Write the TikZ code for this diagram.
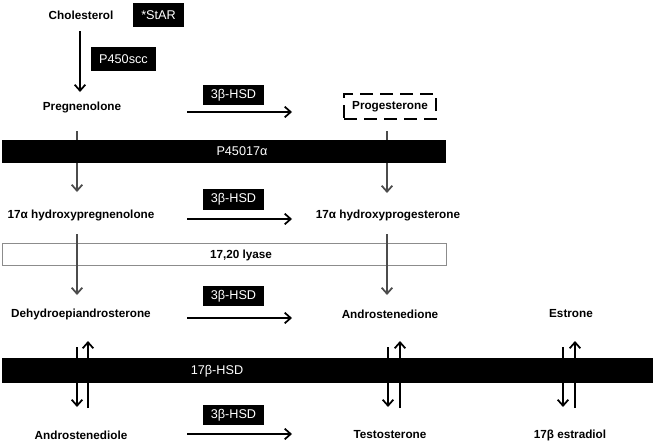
\documentclass[tikz,border=0pt]{standalone}
\usepackage{fontspec}
\setmainfont{Liberation Sans}
\usetikzlibrary{arrows.meta}
\definecolor{linegray}{gray}{0.3}
\definecolor{boxgray}{gray}{0.55}
\begin{document}
\begin{tikzpicture}[x=0.75pt,y=-0.75pt,
  lbl/.style={font=\fontsize{8.8}{10}\selectfont\bfseries, inner sep=0pt},
  enz/.style={fill=black, text=white, font=\fontsize{9.5}{11}\selectfont, inner sep=0pt, minimum width=45.75pt, minimum height=15.5pt},
  wtxt/.style={text=white, font=\fontsize{9.5}{11}\selectfont, inner sep=0pt},
  tipv/.style={-{Straight Barb[length=4.5pt,width=8pt,line width=1.3pt]}},
  harrow/.style={line width=1.5pt, tipv},
  garrow/.style={line width=0.9pt, draw=linegray, tipv},
  barrow/.style={line width=1.4pt, tipv},
  bline/.style={line width=1.4pt}
]
\useasboundingbox (0,0) rectangle (654,446);

% top
\node[lbl] (chol) at (81,15) {Cholesterol};
\node[enz, minimum width=38pt, minimum height=18pt] (star) at (158.5,15) {*StAR};
\node[enz, minimum width=49pt, minimum height=18pt] (p450scc) at (123.5,59) {P450scc};
\node[lbl] (preg) at (82,107) {Pregnenolone};
\coordinate (c1) at (80,31);
\coordinate (c2) at (80,92);
\draw[line width=1.5pt, tipv] (c1) -- (c2);

\node[lbl, draw, line width=1.5pt, dash pattern=on 10pt off 5pt, minimum width=69pt, minimum height=18.75pt] (prog) at (390,106.5) {Progesterone};

% 3b-HSD row 1
\node[enz] (h1) at (233.5,95) {3β-HSD};
\coordinate (a1s) at (187,112); \coordinate (a1e) at (292,112);
\draw[harrow] (a1s) -- (a1e);

% gray arrows through P45017a bar
\coordinate (v1a) at (77,131); \coordinate (v1b) at (77,192);
\coordinate (v2a) at (387,131); \coordinate (v2b) at (387,193);
\draw[garrow] (v1a) -- (v1b);
\draw[garrow] (v2a) -- (v2b);

\fill[black] (2,140) rectangle (446,163);
\node[wtxt] (p17) at (242,151.5) {P45017α};

% row 2
\node[lbl] (ohpreg) at (81,215) {17α hydroxypregnenolone};
\node[lbl] (ohprog) at (388,215) {17α hydroxyprogesterone};
\node[enz] (h2) at (233.5,199.5) {3β-HSD};
\coordinate (a2s) at (187,219); \coordinate (a2e) at (292,219);
\draw[harrow] (a2s) -- (a2e);

% lyase
\draw[boxgray, line width=0.6pt, fill=white] (2,243) rectangle (446,265);
\node[lbl] (lyase) at (241,255) {17,20 lyase};
\coordinate (v3a) at (77,234); \coordinate (v3b) at (77,295);
\coordinate (v4a) at (387,234); \coordinate (v4b) at (387,295);
\draw[garrow] (v3a) -- (v3b);
\draw[garrow] (v4a) -- (v4b);

% row 3
\node[lbl] (dhea) at (81,314) {Dehydroepiandrosterone};
\node[lbl] (andro) at (390,314) {Androstenedione};
\node[lbl] (estrone) at (571,314) {Estrone};
\node[enz] (h3) at (233.5,296) {3β-HSD};
\coordinate (a3s) at (187,318); \coordinate (a3e) at (292,318);
\draw[harrow] (a3s) -- (a3e);

% 17b-HSD bar and arrows
\foreach \xd/\xu/\n in {77/88/1, 388/400/2, 563/575/3}{
  \coordinate (d\n a) at (\xd,347); \coordinate (d\n b) at (\xd,407);
  \coordinate (u\n a) at (\xu,408); \coordinate (u\n b) at (\xu,341);
  \draw[barrow] (d\n a) -- (d\n b);
  \draw[barrow] (u\n a) -- (u\n b);
}
\fill[black] (2,358) rectangle (653,383);
\node[wtxt] (hsd17) at (217,371.5) {17β-HSD};

% row 4
\node[lbl] (adiol) at (81,435) {Androstenediole};
\node[lbl] (testo) at (390,435) {Testosterone};
\node[lbl] (estra) at (570,435) {17β estradiol};
\node[enz] (h4) at (233.5,415) {3β-HSD};
\coordinate (a4s) at (187,434); \coordinate (a4e) at (292,434);
\draw[harrow] (a4s) -- (a4e);
\end{tikzpicture}
\end{document}
